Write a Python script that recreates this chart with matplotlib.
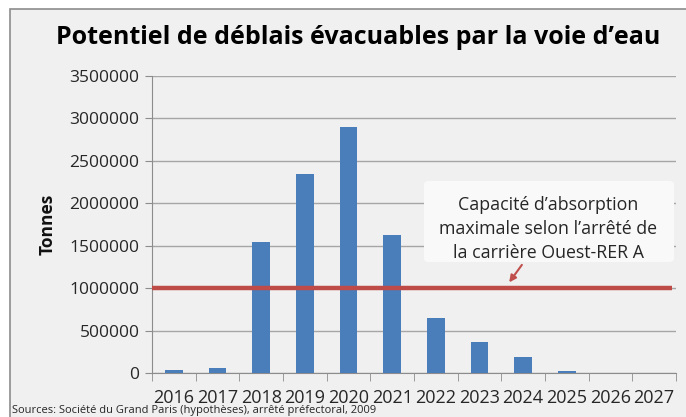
import matplotlib.pyplot as plt
import numpy as np
from matplotlib.patches import Rectangle, FancyBboxPatch

annees = ["2016", "2017", "2018", "2019", "2020", "2021", "2022", "2023", "2024", "2025", "2026", "2027"]
deblais = [42000, 66000, 1545000, 2340000, 2900000, 1630000, 650000, 372000, 196000, 27000, 0, 0]
capacite = 1000000
yticks = [0, 500000, 1000000, 1500000, 2000000, 2500000, 3000000, 3500000]

W, H = 686, 417
fig = plt.figure(figsize=(W / 100, H / 100), dpi=100)
fig.patch.set_facecolor("white")
fond = "#f0f0f0"
txt = "#262626"
# cadre gris du graphique
fig.patches.append(Rectangle((10 / W, -0.01), 1.0, (H - 9) / H + 0.01, transform=fig.transFigure,
                             facecolor=fond, edgecolor="#8c8c8c", linewidth=1.2, zorder=-1))

ax = fig.add_axes([152 / W, (H - 373.3) / H, (676 - 152) / W, 297.5 / H])
ax.set_facecolor(fond)

x = np.arange(len(annees))
ax.bar(x, deblais, width=0.41, color="#4a7ebb", zorder=3)
ax.plot([-0.5, 11.4], [capacite, capacite], color="#be4b48", linewidth=3.2, zorder=4, solid_capstyle="butt")

ax.set_xlim(-0.5, 11.5)
ax.set_ylim(0, 3500000)
ax.set_yticks(yticks)
ax.set_yticklabels([str(v) for v in yticks], fontsize=12.5, color=txt, family="Open Sans")
ax.yaxis.grid(True, color="#a6a6a6", linewidth=1, zorder=0)
ax.set_xticks(x)
ax.set_xticklabels(annees, fontsize=13, color=txt, family="Open Sans")
ax.tick_params(axis="x", which="major", length=0, pad=11)
ax.set_xticks(np.arange(-0.5, 12, 1), minor=True)
ax.tick_params(axis="x", which="minor", length=6, color="#8c8c8c", direction="out")
ax.tick_params(axis="y", length=5, color="#8c8c8c", pad=4)
for s in ["top", "right"]:
    ax.spines[s].set_visible(False)
ax.spines["left"].set_color("#8c8c8c")
ax.spines["bottom"].set_color("#8c8c8c")

fig.text(48 / W, 1 - 224 / H, "Tonnes", rotation=90, ha="center", va="center",
         fontsize=12.5, fontweight="bold", family="Open Sans", color="#111111")

fig.text(358 / W, 1 - 37 / H, "Potentiel de déblais évacuables par la voie d\u2019eau",
         ha="center", va="center", fontsize=18, fontweight="bold", family="Open Sans")

# encadré de l'annotation (zone de texte Excel)
boite = FancyBboxPatch((424 / W, 1 - 262 / H), 250 / W, 81 / H,
                       boxstyle="round,pad=0,rounding_size=0.008", transform=fig.transFigure,
                       facecolor="#f9f9f9", edgecolor="none", zorder=4.5, clip_on=False)
ax.add_patch(boite)

ax.annotate("Capacité d\u2019absorption\nmaximale selon l\u2019arrêté de\nla carrière Ouest-RER A",
            xy=(7.68, capacite + 70000), xytext=(8.57, 1700000),
            ha="center", va="center", fontsize=12.8, family="Open Sans", color=txt, linespacing=1.45,
            arrowprops=dict(arrowstyle="-|>", color="#c0504d", lw=1.5, mutation_scale=10,
                            shrinkA=0, shrinkB=0),
            zorder=5)

fig.text(12 / W, 1 - 416.5 / H, "Sources: Société du Grand Paris (hypothèses), arrêté préfectoral, 2009",
         ha="left", va="bottom", fontsize=8, family="Open Sans", color=txt)

fig.savefig("out.png", dpi=100)
